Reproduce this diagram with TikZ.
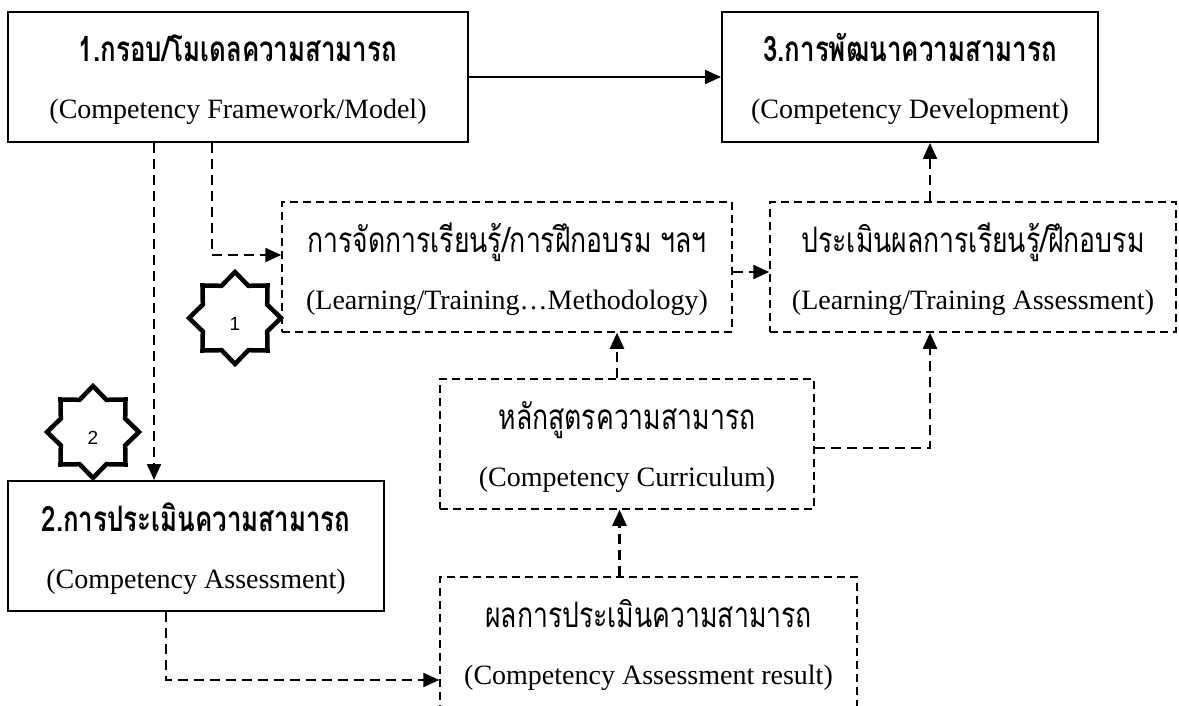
\documentclass[tikz,border=0pt]{standalone}
\usepackage{fontspec}
\setmainfont{Liberation Serif}
\newfontfamily\thaifont[Script=Thai, UprightFeatures={FakeStretch=0.76}, BoldFeatures={FakeStretch=0.74}]{Loma}
\newfontfamily\numfont{Liberation Sans}
\usetikzlibrary{arrows.meta,shapes.geometric}

\tikzset{
  framebox/.style={draw, line width=2pt, inner sep=0pt, minimum width=#1, minimum height=130pt},
  dashbox/.style={draw, line width=1.5pt, dash pattern=on 8pt off 5pt, inner sep=0pt, minimum width=#1, minimum height=130pt},
  thaihead/.style={font=\thaifont\bfseries\fontsize{35}{40}\selectfont, inner sep=0pt, anchor=base},
  thaitext/.style={font=\thaifont\fontsize{35}{40}\selectfont, inner sep=0pt, anchor=base},
  engtext/.style={font=\fontsize{28}{32}\selectfont, inner sep=0pt, anchor=base},
  conn/.style={line width=2.2pt, dash pattern=on 10pt off 6pt, -{Triangle[length=16pt,width=14pt]}},
  mainarrow/.style={line width=2pt, -{Triangle[length=16pt,width=14pt]}},
  badge/.style={star, star points=8, star point ratio=1.32, draw, line width=4.5pt, inner sep=0pt, minimum size=92pt, fill=white},
  badgenum/.style={font=\numfont\fontsize{19}{22}\selectfont, inner sep=0pt}
}

\begin{document}
\begin{tikzpicture}[x=1pt,y=-1pt]
\useasboundingbox[fill=white] (0,0) rectangle (1179,706);

% main stages
\node[framebox=460pt] (b1) at (238,77) {};
\node[framebox=376pt] (b3) at (910,77) {};
\node[framebox=376pt] (b2) at (196,546) {};

% supporting activities
\node[dashbox=450pt] (lrn) at (507,267) {};
\node[dashbox=406pt] (asm) at (973,267) {};
\node[dashbox=374pt] (cur) at (627,444) {};
\node[dashbox=417pt, minimum height=143pt] (res) at (648.5,648.5) {};

% labels
\node[thaihead] (b1t) at ([yshift=-51pt]b1.north) {1.กรอบ/โมเดลความสามารถ};
\node[engtext]  (b1e) at ([yshift=-108pt]b1.north) {(Competency Framework/Model)};
\node[thaihead] (b3t) at ([yshift=-51pt]b3.north) {3.การพัฒนาความสามารถ};
\node[engtext]  (b3e) at ([yshift=-108pt]b3.north) {(Competency Development)};
\node[thaihead] (b2t) at ([yshift=-51pt]b2.north) {2.การประเมินความสามารถ};
\node[engtext]  (b2e) at ([yshift=-108pt]b2.north) {(Competency Assessment)};
\node[thaitext] (lrnt) at ([yshift=-51pt]lrn.north) {การจัดการเรียนรู้/การฝึกอบรม ฯลฯ};
\node[engtext]  (lrne) at ([yshift=-108pt]lrn.north) {(Learning/Training…Methodology)};
\node[thaitext] (asmt) at ([yshift=-51pt]asm.north) {ประเมินผลการเรียนรู้/ฝึกอบรม};
\node[engtext]  (asme) at ([yshift=-108pt]asm.north) {(Learning/Training Assessment)};
\node[thaitext] (curt) at ([yshift=-51pt]cur.north) {หลักสูตรความสามารถ};
\node[engtext]  (cure) at ([yshift=-108pt]cur.north) {(Competency Curriculum)};
\node[thaitext] (rest) at ([yshift=-51pt]res.north) {ผลการประเมินความสามารถ};
\node[engtext]  (rese) at ([yshift=-108pt]res.north) {(Competency Assessment result)};

% connectors
\draw[mainarrow] (b1.east) -- (b3.west);
\draw[conn] ([xshift=-84pt]b1.south) -- ([xshift=-84pt]b1.south |- b2.north);
\draw[conn] ([xshift=-26pt]b1.south) |- ([yshift=12pt]lrn.west);
\draw[conn] ([yshift=-5pt]lrn.east) -- ([yshift=-5pt]asm.west);
\draw[conn] ([xshift=-43pt]asm.north) -- ([xshift=-43pt]asm.north |- b3.south);
\draw[conn] ([xshift=-10pt]cur.north) -- ([xshift=-10pt]cur.north |- lrn.south);
\draw[conn] ([yshift=-4pt]cur.east) -| ([xshift=-43pt]asm.south);
\draw[conn] ([xshift=-29pt]res.north) -- ([xshift=-29pt]res.north |- cur.south);
\draw[conn] ([xshift=-30pt]b2.south) |- ([yshift=-31.5pt]res.west);

% numbered badges
\node[badge] (s1) at (235,318) {};
\node[badgenum] (s1n) at ([yshift=-6pt]s1.center) {1};
\node[badge] (s2) at (93,432) {};
\node[badgenum] (s2n) at ([yshift=-6pt]s2.center) {2};
\end{tikzpicture}
\end{document}
